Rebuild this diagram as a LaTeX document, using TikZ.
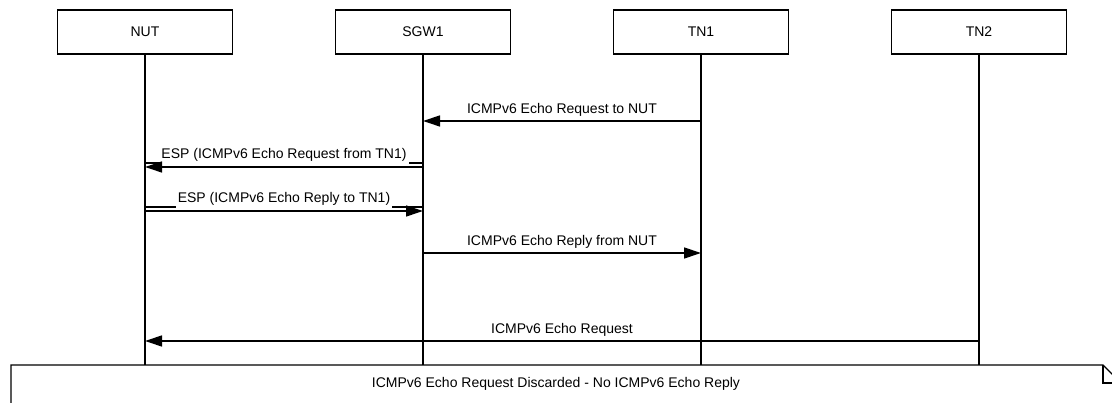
\documentclass[tikz,border=0pt]{standalone}
\usepackage{fontspec}
\setmainfont{Liberation Sans}
\usetikzlibrary{arrows.meta,positioning}
\tikzset{
  headbox/.style={rectangle, draw=black, line width=1.3pt, minimum width=175pt,
    minimum height=44pt, align=center, font=\fontsize{14}{16}\selectfont, inner sep=3pt},
  lifeline/.style={draw=black, line width=1.3pt},
  msgline/.style={draw=black, line width=1.3pt},
  msgarrow/.style={-{Triangle[length=17pt,width=11pt]}, draw=black, line width=1.3pt},
  msglabel/.style={font=\fontsize{14}{16}\selectfont, inner sep=2pt},
  esplabel/.style={font=\fontsize{14}{16}\selectfont, fill=white, anchor=base,
    inner xsep=2pt, inner ysep=2pt},
  notebox/.style={draw=black, line width=1.3pt, line join=miter},
}

\begin{document}
\begin{tikzpicture}[x=1pt, y=-1pt]
  \useasboundingbox (0,0) rectangle (1112,403);

  % Participants (top row)
  \node[headbox] (nut) at (145,32) {NUT};
  \node[headbox, right=101.7pt of nut] (sgw) {SGW1};
  \node[headbox, right=101.7pt of sgw] (tn1) {TN1};
  \node[headbox, right=101.7pt of tn1] (tn2) {TN2};

  % Message rows
  \coordinate (r1) at (0,121);
  \coordinate (r2a) at (0,163);
  \coordinate (r2b) at (0,167);
  \coordinate (r3a) at (0,207);
  \coordinate (r3b) at (0,211);
  \coordinate (r4) at (0,253);
  \coordinate (r5) at (0,341);
  \coordinate (bot) at (0,365);

  % Lifelines
  \foreach \p in {nut,sgw,tn1,tn2}
    \draw[lifeline] (\p.south) -- (\p |- bot);

  % Echo request towards NUT through the gateway
  \draw[msgarrow] (tn1 |- r1) -- node[msglabel, above=2pt] {ICMPv6 Echo Request to NUT} (sgw |- r1);
  \draw[msgline] (sgw |- r2a) -- node[esplabel, yshift=4pt] {ESP (ICMPv6 Echo Request from TN1)} (nut |- r2a);
  \draw[msgarrow] (sgw |- r2b) -- (nut |- r2b);

  % Echo reply back through the tunnel
  \draw[msgline] (nut |- r3a) -- node[esplabel, yshift=4pt] {ESP (ICMPv6 Echo Reply to TN1)} (sgw |- r3a);
  \draw[msgarrow] (nut |- r3b) -- (sgw |- r3b);
  \draw[msgarrow] (sgw |- r4) -- node[msglabel, above=2pt] {ICMPv6 Echo Reply from NUT} (tn1 |- r4);

  % Direct request from TN2
  \draw[msgarrow] (tn2 |- r5) -- node[msglabel, above=2pt] {ICMPv6 Echo Request} (nut |- r5);

  % Note at the bottom
  \draw[notebox] (11,412) -- (11,365) -- (1103,365) -- (1121,383) -- (1121,412);
  \draw[notebox] (1103,365) -- (1103,383) -- (1121,383);
  \node[msglabel] (discard) at (556,384) {ICMPv6 Echo Request Discarded - No ICMPv6 Echo Reply};

\end{tikzpicture}
\end{document}
